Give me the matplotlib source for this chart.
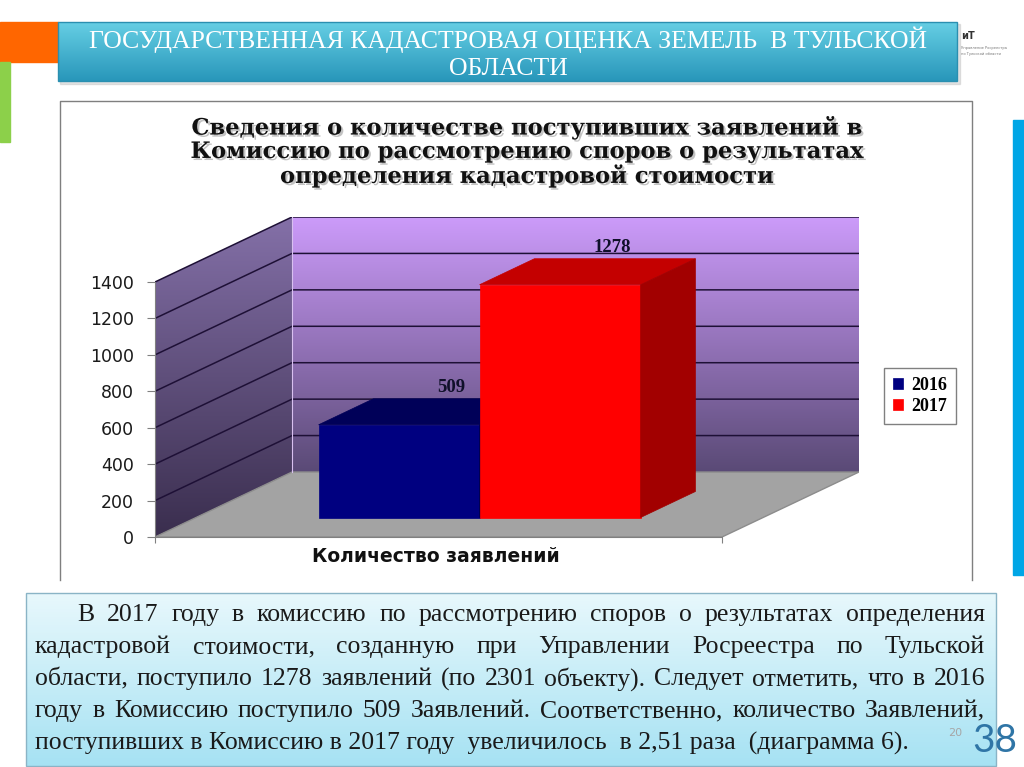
import numpy as np
import matplotlib
matplotlib.use("Agg")
import matplotlib.pyplot as plt
import matplotlib.patheffects as pe
from matplotlib.patches import Polygon, Rectangle
from matplotlib.colors import LinearSegmentedColormap

# ---- data -------------------------------------------------------------
years = ["2016", "2017"]
applications = [509, 1278]
front_colors = ["#000080", "#FF0000"]
top_colors = ["#000058", "#C40000"]
side_colors = ["#00004A", "#A20000"]
y_ticks = [0, 200, 400, 600, 800, 1000, 1200, 1400]
category = "Количество заявлений"
chart_title = ("Сведения о количестве поступивших заявлений в\n"
               "Комиссию по рассмотрению споров о результатах\n"
               "определения кадастровой стоимости")
slide_title = "ГОСУДАРСТВЕННАЯ КАДАСТРОВАЯ ОЦЕНКА ЗЕМЕЛЬ  В ТУЛЬСКОЙ\nОБЛАСТИ"
body_lines = [
    "В 2017 году в комиссию по рассмотрению споров о результатах определения",
    "кадастровой стоимости, созданную при Управлении Росреестра по Тульской",
    "области, поступило 1278 заявлений (по 2301 объекту). Следует отметить, что в 2016",
    "году в Комиссию поступило 509 Заявлений. Соответственно, количество Заявлений,",
    "поступивших в Комиссию в 2017 году  увеличилось  в 2,51 раза  (диаграмма 6).",
]
body_justified = [True, True, True, True, False]

W, H = 1024, 767
SERIF = "Liberation Serif"

# oblique "3d" geometry of the chart (in category / value units)
PX_X = 567.0            # pixels of the front floor edge
PX_Y = 255.0 / 1400.0   # pixels per value unit
DX = 137.0 / PX_X       # depth shift along x
DY = 65.0 / PX_Y        # depth shift along y
Z0, Z1 = 0.3, 0.7       # bar depth span
BAR_W = 0.284


def vgradient(ax, xy, c_top, c_bottom, zorder, inverted=False):
    poly = Polygon(xy, closed=True, facecolor="none", edgecolor="none")
    ax.add_patch(poly)
    xs = [p[0] for p in xy]
    ys = [p[1] for p in xy]
    cmap = LinearSegmentedColormap.from_list("g", [c_bottom, c_top])
    grad = np.linspace(0, 1, 256).reshape(-1, 1)
    if inverted:
        im = ax.imshow(grad[::-1], cmap=cmap, aspect="auto", origin="upper",
                       extent=(min(xs), max(xs), max(ys), min(ys)), zorder=zorder)
    else:
        im = ax.imshow(grad, cmap=cmap, aspect="auto", origin="lower",
                       extent=(min(xs), max(xs), min(ys), max(ys)), zorder=zorder)
    im.set_clip_path(poly)
    return im


fig = plt.figure(figsize=(W / 100, H / 100), dpi=100)
fig.patch.set_facecolor("white")

# ---- slide background (pixel coordinates) -----------------------------
bg = fig.add_axes([0, 0, 1, 1])
bg.set_xlim(0, W)
bg.set_ylim(H, 0)
bg.axis("off")

bg.add_patch(Rectangle((0, 22), 58, 40, color="#FF6600", zorder=2))
bg.add_patch(Rectangle((0, 62), 10, 80, color="#8CD04A", zorder=2))
bg.add_patch(Rectangle((1013, 120), 11, 455, color="#00A6E6", zorder=2))

# banner
bg.add_patch(Rectangle((60, 24), 900, 60, color="#b0b0b0", alpha=0.35, zorder=2))
vgradient(bg, [(58, 22), (957, 22), (957, 81), (58, 81)], "#66CFE4", "#2896BA", 3, inverted=True)
bg.add_patch(Rectangle((58, 22), 899, 59, fill=False, edgecolor="#2A8FB0", lw=1, zorder=4))
bg.text(508, 53, slide_title, ha="center", va="center", color="white",
        family=SERIF, fontsize=18.5, linespacing=1.3, zorder=5)

# small logo
bg.text(961, 36, "иТ", ha="left", va="center", fontsize=7, fontweight="bold", color="#333333")
bg.text(961, 48, "Управление Росреестра", ha="left", va="center", fontsize=2.6, color="#777777")
bg.text(961, 54, "по Тульской области", ha="left", va="center", fontsize=2.6, color="#777777")

# chart frame
bg.plot([60, 60, 972, 972], [580, 101, 101, 580], color="#7F7F7F", lw=1, zorder=2)
bg.text(526, 152, chart_title, ha="center", va="center", family="DejaVu Serif",
        fontweight="bold", fontsize=16.3, linespacing=1.08, color="#111111", zorder=3,
        path_effects=[pe.withSimplePatchShadow(offset=(1.5, -1.5), shadow_rgbFace="#888888", alpha=0.5)])

# text box
vgradient(bg, [(26, 593), (996, 593), (996, 766), (26, 766)], "#E8F8FC", "#A6E2F3", 2, inverted=True)
bg.add_patch(Rectangle((26, 593), 970, 173, fill=False, edgecolor="#8AB4C6", lw=1, zorder=3))

renderer = fig.canvas.get_renderer()
line_y = [615, 647, 679, 711, 743]
for i, (line, just) in enumerate(zip(body_lines, body_justified)):
    x0 = 77 if i == 0 else 35
    x1 = 985
    if just:
        words = line.split()
        texts = [bg.text(0, line_y[i], w, ha="left", va="center", family=SERIF,
                         fontsize=18.5, color="#1A1A1A", zorder=4) for w in words]
        widths = [t.get_window_extent(renderer).width for t in texts]
        gap = (x1 - x0 - sum(widths)) / (len(words) - 1)
        x = x0
        for t, wd in zip(texts, widths):
            t.set_x(x)
            x += wd + gap
    else:
        bg.text(x0, line_y[i], line, ha="left", va="center", family=SERIF,
                fontsize=18.5, color="#1A1A1A", zorder=4)

bg.text(955, 733, "20", ha="center", va="center", fontsize=8, color="#A6A6A6", zorder=4)
bg.text(995, 741, "38", ha="center", va="center", family="Lato", fontsize=28,
        color="#2F75A6", zorder=4)

# ---- chart ------------------------------------------------------------
left_px, bottom_px = 155, 537
ax = fig.add_axes([left_px / W, 1 - bottom_px / H,
                   PX_X * (1 + DX) / W, PX_Y * (1400 + DY) / H])
ax.patch.set_alpha(0)

back = [(DX, DY), (1 + DX, DY), (1 + DX, 1400 + DY), (DX, 1400 + DY)]
side = [(0, 0), (DX, DY), (DX, 1400 + DY), (0, 1400)]
floor = [(0, 0), (1, 0), (1 + DX, DY), (DX, DY)]
vgradient(ax, back, "#CC9BFA", "#5A4A76", 1)
vgradient(ax, side, "#8470A8", "#3A2E4E", 1)
ax.add_patch(Polygon(floor, closed=True, facecolor="#A3A3A3", edgecolor="#8C8C8C", lw=1, zorder=2))

for v in y_ticks[1:]:
    ax.plot([0, DX, 1 + DX], [v, v + DY, v + DY], color="#1E1036", lw=1.1, zorder=2)
ax.plot([DX, DX], [DY, 1400 + DY], color="#D8C0F0", lw=0.8, zorder=2)

lefts = [0.5 - BAR_W + i * BAR_W for i in range(len(applications))]
for l, v, fc, tc, sc, yr in zip(lefts, applications, front_colors, top_colors, side_colors, years):
    ax.bar(l + Z0 * DX, v, width=BAR_W, bottom=Z0 * DY, align="edge",
           color=fc, edgecolor=fc, lw=0.5, zorder=3, label=yr)
    top = [(l + Z0 * DX, v + Z0 * DY), (l + BAR_W + Z0 * DX, v + Z0 * DY),
           (l + BAR_W + Z1 * DX, v + Z1 * DY), (l + Z1 * DX, v + Z1 * DY)]
    rside = [(l + BAR_W + Z0 * DX, Z0 * DY), (l + BAR_W + Z1 * DX, Z1 * DY),
             (l + BAR_W + Z1 * DX, v + Z1 * DY), (l + BAR_W + Z0 * DX, v + Z0 * DY)]
    ax.add_patch(Polygon(top, closed=True, facecolor=tc, edgecolor=tc, lw=0.5, zorder=3))
    ax.add_patch(Polygon(rside, closed=True, facecolor=sc, edgecolor=sc, lw=0.5, zorder=3))
    ax.text(l + BAR_W / 2 + 0.68 * DX, v + 0.88 * DY, str(v), ha="center", va="center",
            family=SERIF, fontweight="bold", fontsize=13.5, color="#10102A", zorder=4)

ax.set_xlim(0, 1 + DX)
ax.set_ylim(0, 1400 + DY)
for s in ["top", "right"]:
    ax.spines[s].set_visible(False)
ax.spines["left"].set_bounds(0, 1400)
ax.spines["bottom"].set_bounds(0, 1)
ax.spines["left"].set_color("#808080")
ax.spines["bottom"].set_color("#808080")
ax.set_yticks(y_ticks)
ax.set_yticklabels([str(t) for t in y_ticks])
ax.set_xticks([0, 1])
ax.set_xticklabels(["", ""])
ax.tick_params(axis="y", length=6, color="#808080", pad=9, labelsize=12.5, labelcolor="#1A1A1A")
ax.tick_params(axis="x", length=4, color="#808080")
ax.annotate(category, xy=(0.5, 0), xytext=(-3, -20), textcoords="offset pixels",
            ha="center", va="center", fontsize=13.5, fontweight="bold", color="#111111")

ax.legend(loc="upper left", bbox_to_anchor=(884 / W, 1 - 368 / H), bbox_transform=fig.transFigure,
          borderaxespad=0, fancybox=False, edgecolor="#808080", framealpha=1,
          handlelength=0.55, handleheight=0.55, handletextpad=0.45, labelspacing=0.2,
          borderpad=0.5, prop={"family": SERIF, "weight": "bold", "size": 13})

fig.savefig("out.png", dpi=100)
